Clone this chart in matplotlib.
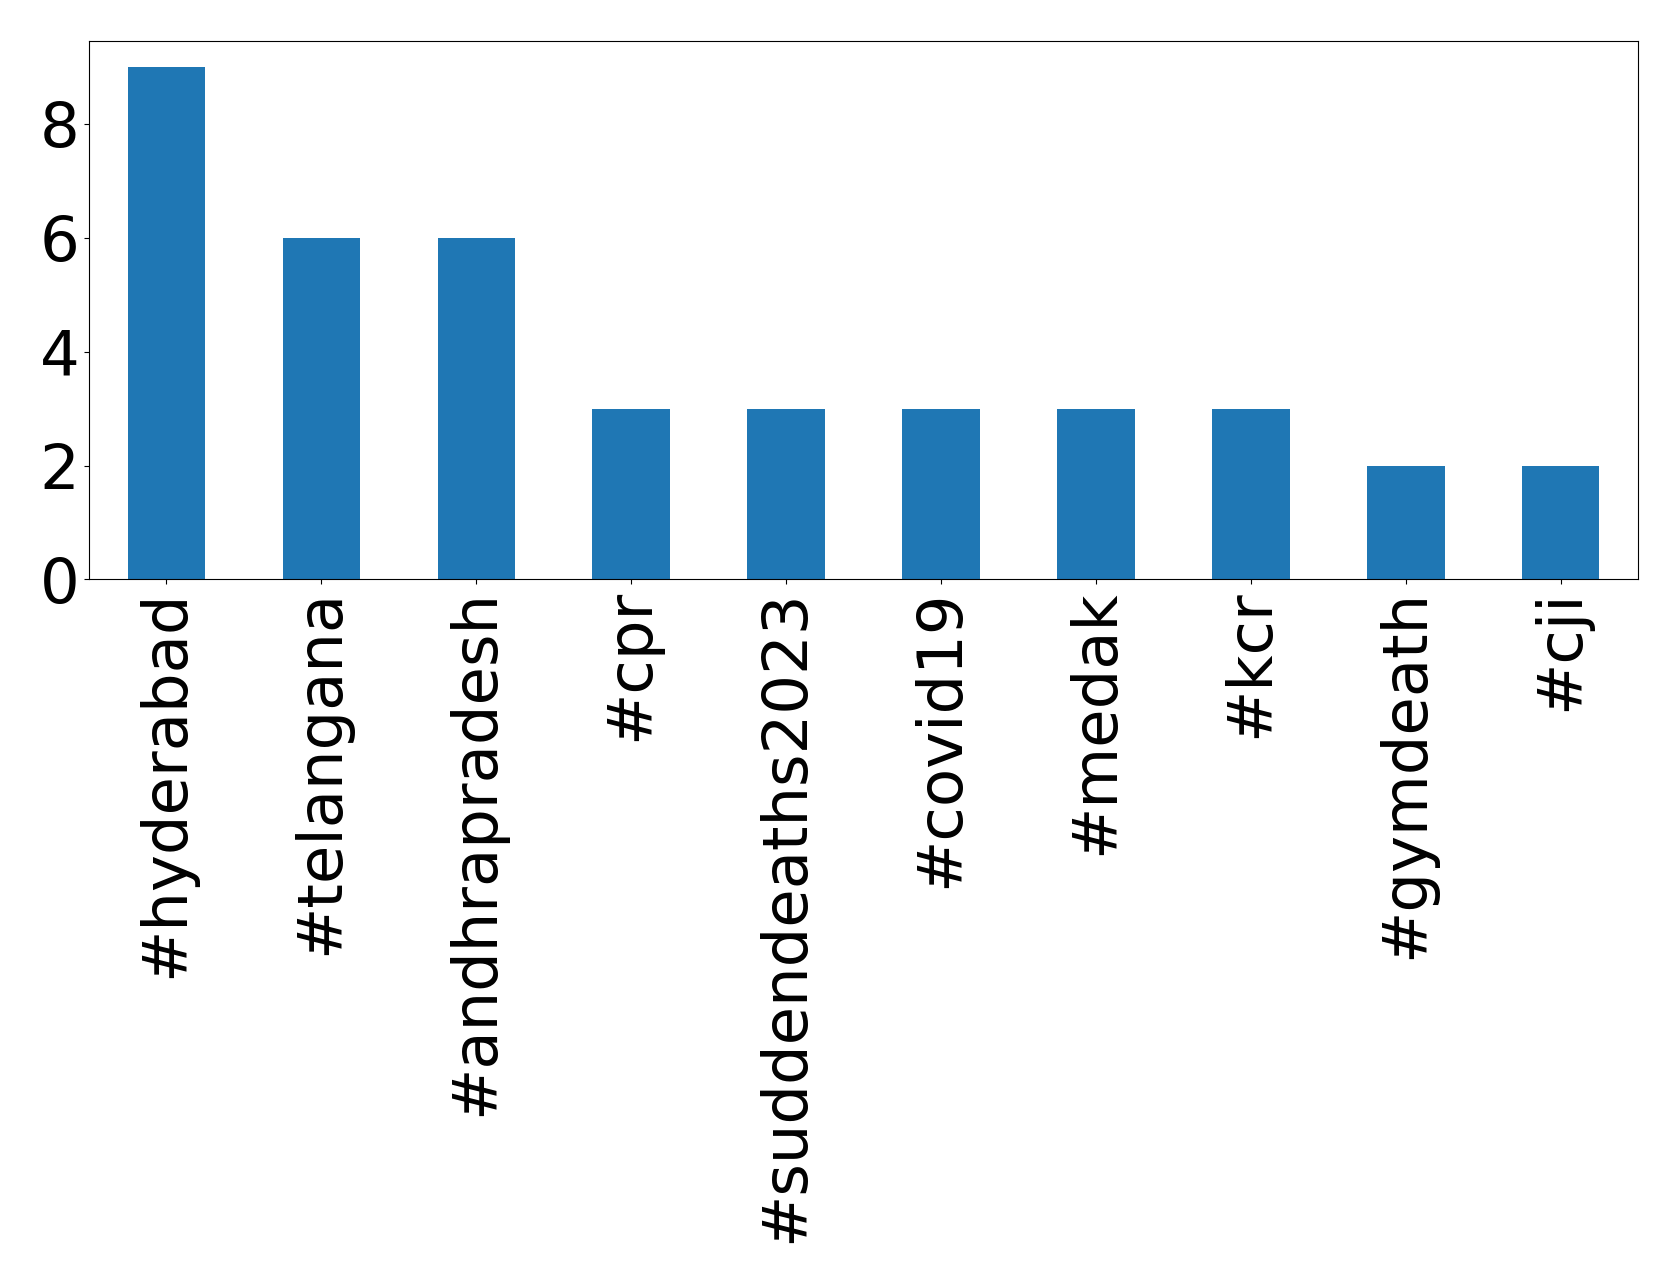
import matplotlib
matplotlib.use("Agg")
import matplotlib.pyplot as plt
import pandas as pd

# hashtag counts
hashtags = ["#hyderabad", "#telangana", "#andhrapradesh", "#cpr", "#suddendeaths2023",
            "#covid19", "#medak", "#kcr", "#gymdeath", "#cji"]
counts = [9, 6, 6, 3, 3, 3, 3, 3, 2, 2]

s = pd.Series(counts, index=hashtags)

fig = plt.figure(figsize=(16.79, 12.82), dpi=100)
ax = fig.add_axes([0.053, 0.548, 0.9227, 0.42])
s.plot(kind="bar", ax=ax, color="#1f77b4")
ax.tick_params(axis="both", labelsize=45)
ax.set_yticks([0, 2, 4, 6, 8])

fig.savefig("out.png", dpi=100)
